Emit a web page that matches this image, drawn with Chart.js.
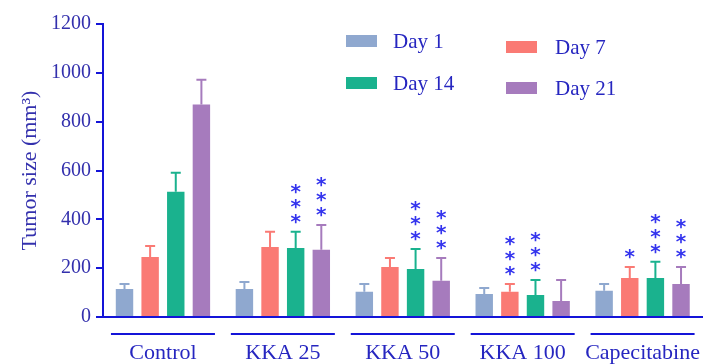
<!DOCTYPE html>
<html>
<head>
<meta charset="utf-8">
<script src="https://cdn.jsdelivr.net/npm/chart.js@4.4.1/dist/chart.umd.min.js"></script>
<style>
  html, body { margin: 0; padding: 0; background: #fff; overflow: hidden; }
  #wrap { width: 717px; height: 364px; overflow: hidden; }
</style>
</head>
<body>
<div id="wrap"><canvas id="chart" width="723" height="364"></canvas></div>
<script>
const GROUPS = ["Control", "KKA 25", "KKA 50", "KKA 100", "Capecitabine"];
const SERIES = ["Day 1", "Day 7", "Day 14", "Day 21"];
const COLORS = ["#8fa8cf", "#fa7a74", "#1ab28e", "#a67bbd"];

// means
const DAY1 = [115, 115, 103, 94, 107];
const DAY7 = [246, 287, 205, 103, 160];
const DAY14 = [513, 283, 197, 90, 160];
const DAY21 = [870, 275, 148, 66, 135];

// error bar heights (SD)
const DAY1_ERR = [20, 28, 32, 25, 28];
const DAY7_ERR = [45, 62, 37, 32, 45];
const DAY14_ERR = [78, 66, 82, 62, 66];
const DAY21_ERR = [102, 102, 94, 86, 70];

// number of asterisks over each bar
const DAY1_STARS = [0, 0, 0, 0, 0];
const DAY7_STARS = [0, 0, 0, 3, 1];
const DAY14_STARS = [0, 3, 3, 3, 3];
const DAY21_STARS = [0, 3, 3, 0, 3];

const Y_TICKS = [0, 200, 400, 600, 800, 1000, 1200];

const VALUES = [DAY1, DAY7, DAY14, DAY21];
const ERRS = [DAY1_ERR, DAY7_ERR, DAY14_ERR, DAY21_ERR];
const STARS = [DAY1_STARS, DAY7_STARS, DAY14_STARS, DAY21_STARS];

const BLUE = "#1414d8";
const TEXT = "#2626c0";
const TICK_TEXT = "#3330ad";
const SERIF = "'Liberation Serif', 'Times New Roman', serif";

// error bars + asterisks + group underlines
const extrasPlugin = {
  id: "extras",
  afterDatasetsDraw(chart) {
    const ctx = chart.ctx;
    const yScale = chart.scales.y;
    const xScale = chart.scales.x;
    ctx.save();
    chart.data.datasets.forEach((ds, i) => {
      const meta = chart.getDatasetMeta(i);
      meta.data.forEach((bar, j) => {
        const top = yScale.getPixelForValue(VALUES[i][j] + ERRS[i][j]);
        ctx.strokeStyle = COLORS[i];
        ctx.lineWidth = 2;
        ctx.beginPath();
        ctx.moveTo(bar.x, bar.y);
        ctx.lineTo(bar.x, top);
        ctx.moveTo(bar.x - 5, top);
        ctx.lineTo(bar.x + 5, top);
        ctx.stroke();

        ctx.fillStyle = "#3434ee";
        ctx.font = "bold 20px 'DejaVu Sans'";
        ctx.textAlign = "center";
        ctx.textBaseline = "alphabetic";
        for (let k = 0; k < STARS[i][j]; k++) {
          const cy = top - 15 - k * 15;
          ctx.fillText("*", bar.x, cy + 11);
        }
      });
    });
    // group underlines below the axis
    ctx.strokeStyle = BLUE;
    ctx.lineWidth = 2;
    GROUPS.forEach((g, j) => {
      const cx = xScale.getPixelForValue(j);
      ctx.beginPath();
      ctx.moveTo(cx - 52, 334);
      ctx.lineTo(cx + 52, 334);
      ctx.stroke();
    });
    ctx.restore();
  },
};

// two-column legend
const legendPlugin = {
  id: "dayLegend",
  afterDraw(chart) {
    const ctx = chart.ctx;
    const spots = [
      { sx: 346, sy: 35, tx: 393, ty: 42 },
      { sx: 506, sy: 41, tx: 555, ty: 48 },
      { sx: 346, sy: 77, tx: 393, ty: 84 },
      { sx: 506, sy: 82, tx: 555, ty: 89 },
    ];
    ctx.save();
    chart.data.datasets.forEach((ds, i) => {
      const p = spots[i];
      ctx.fillStyle = ds.backgroundColor;
      ctx.fillRect(p.sx, p.sy, 31, 12);
      ctx.fillStyle = TEXT;
      ctx.font = "21px " + SERIF;
      ctx.textAlign = "left";
      ctx.textBaseline = "middle";
      ctx.fillText(ds.label, p.tx, p.ty);
    });
    ctx.restore();
  },
};

const ctx = document.getElementById("chart").getContext("2d");
new Chart(ctx, {
  type: "bar",
  data: {
    labels: GROUPS,
    datasets: SERIES.map((name, i) => ({
      label: name,
      data: VALUES[i],
      backgroundColor: COLORS[i],
      borderWidth: 0,
      categoryPercentage: 0.855,
      barPercentage: 0.68,
    })),
  },
  options: {
    responsive: false,
    animation: false,
    layout: { padding: { top: 24, right: 0, bottom: 0, left: 0 } },
    plugins: {
      legend: { display: false },
      tooltip: { enabled: false },
    },
    scales: {
      x: {
        grid: { display: false, drawTicks: false },
        border: { display: true, color: BLUE, width: 2 },
        ticks: {
          color: TEXT,
          font: { family: SERIF, size: 22 },
          padding: 23,
          maxRotation: 0,
          autoSkip: false,
        },
        afterFit(scale) { scale.height = 47; },
      },
      y: {
        min: 0,
        max: 1200,
        afterBuildTicks(scale) { scale.ticks = Y_TICKS.map((v) => ({ value: v })); },
        grid: {
          drawOnChartArea: false,
          drawTicks: true,
          tickLength: 7,
          color: BLUE,
          lineWidth: 2,
        },
        border: { display: true, color: BLUE, width: 2 },
        ticks: {
          color: TICK_TEXT,
          font: { family: SERIF, size: 20 },
          padding: 5,
          callback: (v) => String(v),
        },
        title: {
          display: true,
          text: "Tumor size (mm³)",
          color: TICK_TEXT,
          font: { family: SERIF, size: 22 },
          padding: { top: 17, bottom: 0 },
        },
        afterFit(scale) { scale.width = 103; },
      },
    },
  },
  plugins: [extrasPlugin, legendPlugin],
});
</script>
</body>
</html>
